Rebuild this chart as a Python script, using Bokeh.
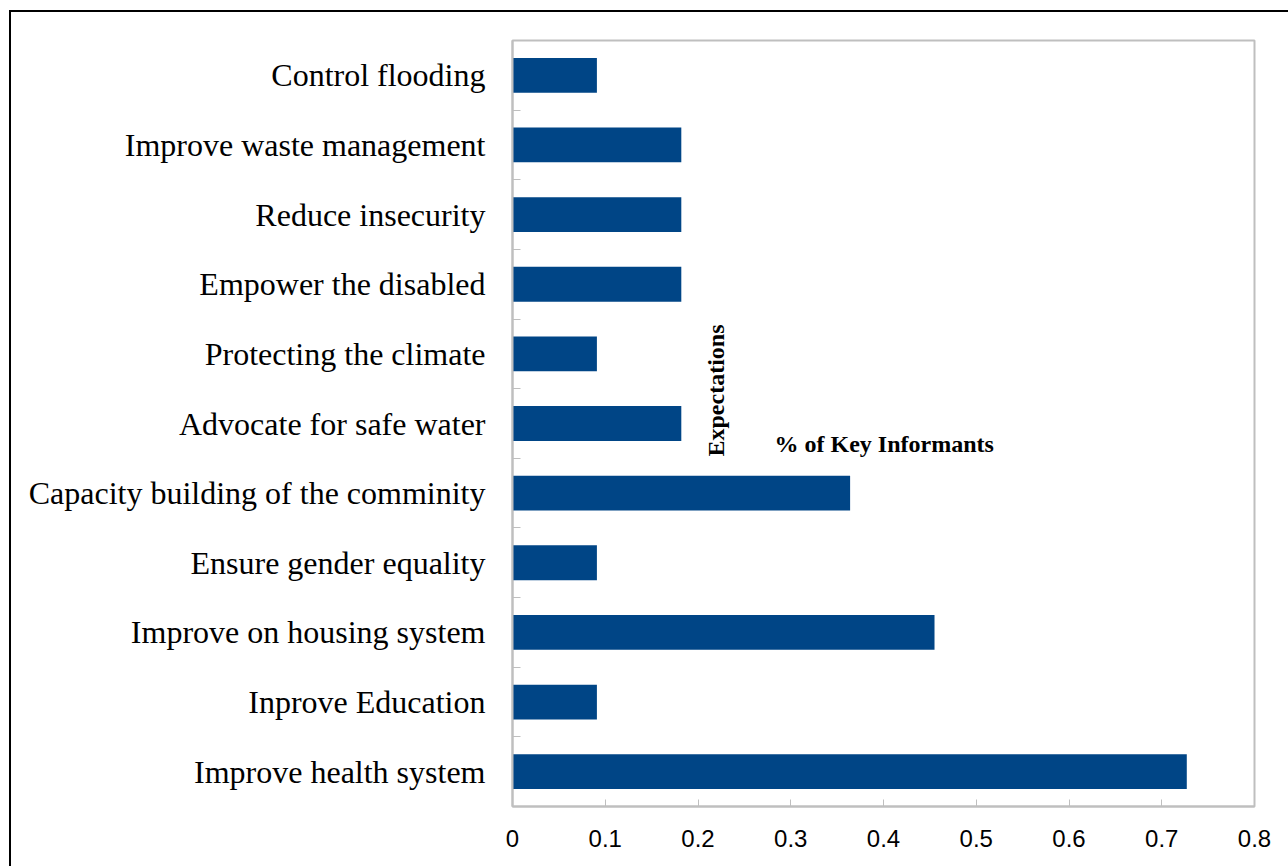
from bokeh.plotting import figure
from bokeh.models import Range1d, FixedTicker, Label
from bokeh.embed import file_html
from bokeh.resources import INLINE
import math

# Categories listed bottom -> top
categories = [
    "Improve health system",
    "Inprove Education",
    "Improve on housing system",
    "Ensure gender equality",
    "Capacity building of the comminity",
    "Advocate for safe water",
    "Protecting the climate",
    "Empower the disabled",
    "Reduce insecurity",
    "Improve waste management",
    "Control flooding",
]
values = [0.727, 0.091, 0.455, 0.091, 0.364, 0.182, 0.091, 0.182, 0.182, 0.182, 0.091]
x_ticks = [0, 0.1, 0.2, 0.3, 0.4, 0.5, 0.6, 0.7, 0.8]
x_tick_labels = ["0", "0.1", "0.2", "0.3", "0.4", "0.5", "0.6", "0.7", "0.8"]

BAR = "#004586"
GRAY = "#bfbfbf"

n = len(categories)
ypos = list(range(n))

p = figure(
    frame_width=742, frame_height=766,
    x_range=Range1d(0, 0.8), y_range=Range1d(-0.5, n - 0.5),
    output_backend="svg", toolbar_location=None,
    min_border_left=501, min_border_right=34, min_border_top=28, min_border_bottom=60,
)
p.styles = {"margin-left": "9px", "margin-top": "10px",
            "border-left": "2px solid black", "border-top": "2px solid black"}
p.background_fill_color = "white"
p.border_fill_color = "white"
p.outline_line_color = GRAY
p.outline_line_width = 2
p.xgrid.visible = False
p.ygrid.visible = False

p.hbar(y=ypos, right=values, left=0, height=0.5, fill_color=BAR, line_color=None)

# X axis
xa = p.xaxis[0]
xa.ticker = FixedTicker(ticks=x_ticks, minor_ticks=[])
xa.major_label_overrides = {t: l for t, l in zip(x_ticks, x_tick_labels)}
xa.axis_line_color = GRAY
xa.axis_line_width = 2
xa.major_tick_in = 7
xa.major_tick_out = 0
xa.major_tick_line_color = GRAY
xa.major_tick_line_width = 1
xa.minor_tick_line_color = None
xa.major_label_text_font = "Liberation Sans"
xa.major_label_text_font_size = "24px"
xa.major_label_text_color = "black"
xa.major_label_standoff = 23

# Y axis
ya = p.yaxis[0]
ya.ticker = FixedTicker(ticks=ypos, minor_ticks=[i + 0.5 for i in range(n - 1)])
ya.major_label_overrides = {i: c for i, c in zip(ypos, categories)}
ya.axis_line_color = GRAY
ya.axis_line_width = 2
ya.major_tick_in = 0
ya.major_tick_out = 0
ya.minor_tick_in = 8
ya.minor_tick_out = 0
ya.minor_tick_line_color = GRAY
ya.minor_tick_line_width = 1
ya.major_label_text_font = "Liberation Serif"
ya.major_label_text_font_size = "32px"
ya.major_label_text_color = "black"
ya.major_label_standoff = 27

p.add_layout(Label(x=0.2199, y=5.474, text="Expectations", angle=math.pi / 2,
                   text_align="center", text_baseline="middle",
                   text_font="Liberation Serif", text_font_style="bold",
                   text_font_size="24px", text_color="black"))
p.add_layout(Label(x=0.2825, y=4.70, text="% of Key Informants",
                   text_align="left", text_baseline="middle",
                   text_font="Liberation Serif", text_font_style="bold",
                   text_font_size="24px", text_color="black"))

open("out.html", "w").write(file_html(p, INLINE))
